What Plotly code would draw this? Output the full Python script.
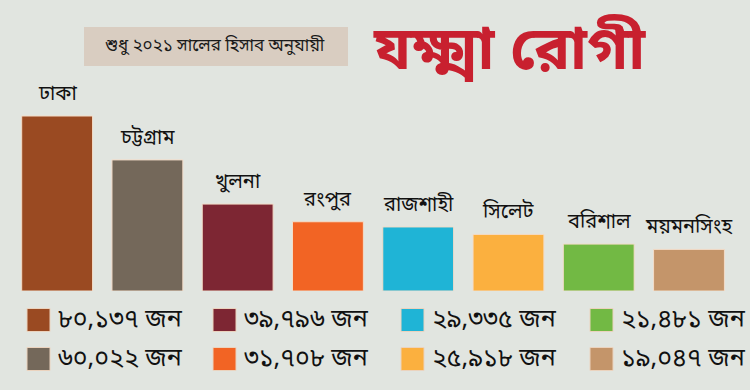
import plotly.graph_objects as go

# ---- data ----
divisions = ["ঢাকা", "চট্টগ্রাম", "খুলনা", "রংপুর", "রাজশাহী", "সিলেট", "বরিশাল", "ময়মনসিংহ"]
patients = [80137, 60022, 39796, 31708, 29335, 25918, 21481, 19047]
colors = ["#9A4A22", "#74685A", "#7D2633", "#F26424", "#1FB4D6", "#FBB03F", "#72B944", "#C4956A"]
title_text = "যক্ষ্মা রোগী"
subtitle_text = "শুধু ২০২১ সালের হিসাব অনুযায়ী"
unit = "জন"

BN_DIGITS = str.maketrans("0123456789", "০১২৩৪৫৬৭৮৯")


def bn_num(v):
    return f"{v:,}".translate(BN_DIGITS)


W, H = 750, 390
BG = "#E1E5E0"
FONT = "Noto Sans Bengali, Noto Sans, Lato, sans-serif"


def px(x):
    return x / W


def py(y):
    return 1 - y / H


fig = go.Figure()
fig.add_trace(go.Bar(
    x=divisions, y=patients,
    marker=dict(color=colors, line=dict(color="#F3DCC8", width=1)),
    width=0.785,
    hoverinfo="x+y",
    showlegend=False,
))

annotations = []
# labels above bars
for d, v in zip(divisions, patients):
    annotations.append(dict(
        x=d, y=v, xref="x", yref="y", text=d, showarrow=False,
        yanchor="bottom", yshift=6,
        font=dict(family=FONT, size=20, color="#111111"),
    ))

# title and subtitle
annotations.append(dict(
    x=px(509), y=py(54), xref="paper", yref="paper", text=f"<b>{title_text}</b>",
    showarrow=False, xanchor="center", yanchor="middle",
    font=dict(family=FONT, size=60, color="#C8202F"),
))
annotations.append(dict(
    x=px(215), y=py(46), xref="paper", yref="paper", text=subtitle_text,
    showarrow=False, xanchor="center", yanchor="middle",
    font=dict(family=FONT, size=17, color="#1A1A1A"),
))

shapes = [dict(
    type="rect", xref="paper", yref="paper",
    x0=px(84), x1=px(348), y0=py(66), y1=py(27),
    fillcolor="#D9CDC1", line=dict(width=0), layer="below",
)]

# legend (column-major, 4 columns x 2 rows)
col_x = [27, 213, 401, 590]
row_y = [320, 359]
sq = 23
for i, (v, c) in enumerate(zip(patients, colors)):
    cx = col_x[i // 2]
    cy = row_y[i % 2]
    shapes.append(dict(
        type="rect", xref="paper", yref="paper",
        x0=px(cx), x1=px(cx + sq), y0=py(cy + sq / 2), y1=py(cy - sq / 2),
        fillcolor=c, line=dict(color="#EBD3BE", width=1),
    ))
    annotations.append(dict(
        x=px(cx + sq + 6), y=py(cy), xref="paper", yref="paper",
        text=f"{bn_num(v)} {unit}", showarrow=False,
        xanchor="left", yanchor="middle",
        font=dict(family=FONT, size=25, color="#111111"),
    ))

ybase, ytop = 291, 116
scale = (ybase - ytop) / patients[0]
ymax = 90000
plot_top = ybase - ymax * scale

fig.update_layout(
    width=W, height=H,
    margin=dict(l=0, r=0, t=0, b=0),
    paper_bgcolor=BG, plot_bgcolor=BG,
    xaxis=dict(domain=[12 / W, 735 / W], showticklabels=False, showgrid=False,
               zeroline=False, showline=False, ticks=""),
    yaxis=dict(domain=[(H - ybase) / H, (H - plot_top) / H], range=[0, ymax],
               showticklabels=False, showgrid=False, zeroline=False, showline=False),
    annotations=annotations,
    shapes=shapes,
    showlegend=False,
)

fig.write_html("out.html", config={"displayModeBar": False},
               post_script="document.body.style.margin='0';")
